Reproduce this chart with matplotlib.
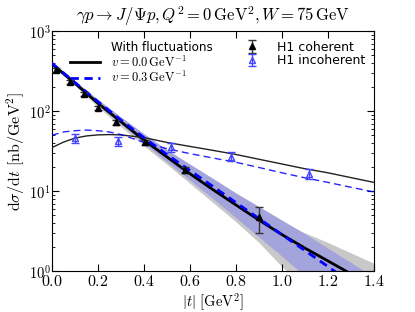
import matplotlib
matplotlib.use('Agg')
import matplotlib.pyplot as plt
import numpy as np
from matplotlib.lines import Line2D
from matplotlib.ticker import FuncFormatter, MultipleLocator

plt.rcParams['mathtext.fontset'] = 'cm'

# |t| grid for the coherent curves and bands
t_coh = [0.0, 0.1, 0.2, 0.3, 0.4, 0.5, 0.6, 0.7, 0.8, 0.9, 1.0, 1.1, 1.2, 1.3, 1.4]
coh_v00 = [389, 224, 126, 74.1, 43.7, 26.9, 16.6, 10.5, 6.76, 4.37, 2.88, 1.95, 1.35, 0.93, 0.65]
coh_v00_lo = [372, 209, 113, 64.5, 37.0, 21.8, 12.6, 7.25, 4.17, 2.30, 1.15, 0.64, 0.36, 0.20, 0.11]
coh_v00_hi = [407, 234, 135, 81.3, 49.0, 30.9, 19.5, 12.9, 8.71, 5.89, 4.17, 3.02, 2.29, 1.70, 1.26]
coh_v03 = [398, 229, 132, 77.6, 46.8, 28.8, 18.2, 11.5, 7.24, 4.57, 2.88, 1.82, 1.15, 0.72, 0.46]
coh_v03_lo = [380, 214, 120, 69.2, 39.8, 23.4, 13.8, 8.13, 4.68, 2.69, 1.55, 0.87, 0.48, 0.26, 0.14]
coh_v03_hi = [417, 240, 141, 85.1, 52.5, 33.1, 21.9, 14.5, 9.55, 6.46, 4.37, 2.95, 1.95, 1.29, 0.85]

# |t| grid for the incoherent curves
t_inc = [0.0, 0.05, 0.1, 0.15, 0.2, 0.25, 0.3, 0.4, 0.5, 0.6, 0.7, 0.8, 0.9, 1.0, 1.1, 1.2, 1.3, 1.4]
inc_v00 = [35, 41, 46, 49, 50.5, 51, 50.5, 46.8, 40.7, 36.3, 32.4, 28.8, 25.1, 21.9, 19.1, 17.0, 14.8, 12.9]
inc_v03 = [50, 55, 57, 58, 57, 55, 51, 41, 34, 29.5, 26, 23, 19.8, 17.0, 14.7, 12.9, 11.2, 9.8]

# H1 data
h1_coh_t = [0.02, 0.08, 0.14, 0.20, 0.28, 0.405, 0.58, 0.90]
h1_coh = [325, 230, 163, 109, 73, 41, 18.3, 4.7]
h1_coh_err = [20, 12, 9, 6, 5, 3, 1.5, 1.7]
h1_inc_t = [0.10, 0.29, 0.52, 0.78, 1.12]
h1_inc = [46, 42, 35.5, 27, 16.5]
h1_inc_err = [6, 5.5, 4.5, 3.5, 2.2]

fig = plt.figure(figsize=(4.15, 3.12), dpi=100)
ax = fig.add_subplot(111)
fig.subplots_adjust(left=0.125, right=0.9, bottom=0.131, top=0.9)

ax.fill_between(t_coh, coh_v00_lo, coh_v00_hi, color='#c8c8c8', lw=0, zorder=1)
ax.fill_between(t_coh, coh_v03_lo, coh_v03_hi, color='#a4a4dc', lw=0, zorder=2)

l0, = ax.plot(t_coh, coh_v00, color='k', lw=2, zorder=4)
l3, = ax.plot(t_coh, coh_v03, color='b', lw=2, ls='--', dashes=(3, 2), zorder=5)
ax.plot(t_inc, inc_v00, color='#222222', lw=1, zorder=4)
ax.plot(t_inc, inc_v03, color='b', lw=1, ls='--', dashes=(5, 3), alpha=0.85, zorder=4)

eb_coh = ax.errorbar(h1_coh_t, h1_coh, yerr=h1_coh_err, fmt='^', color='k', ms=4,
                     ecolor='#333333', elinewidth=1, capsize=3, zorder=6)
eb_inc = ax.errorbar(h1_inc_t, h1_inc, yerr=h1_inc_err, fmt='^', mfc='none', mec='#4444ff',
                     ms=5, ecolor='#4444ff', elinewidth=1, capsize=3, zorder=6)

ax.set_yscale('log')
ax.set_xlim(0, 1.4)
ax.set_ylim(1, 1000)
ax.xaxis.set_major_locator(MultipleLocator(0.2))
ax.xaxis.set_major_formatter(FuncFormatter(lambda v, p: r'$%.1f$' % v))
ax.yaxis.set_major_formatter(FuncFormatter(lambda v, p: r'$10^{%d}$' % round(np.log10(v))))
ax.tick_params(which='both', direction='in', top=True, right=True)
ax.tick_params(axis='x', labelsize=11.5, pad=2)
ax.tick_params(axis='y', labelsize=10.5, pad=1)
ax.tick_params(which='major', length=5)
ax.tick_params(which='minor', length=2.5)

ax.set_title(r'$\gamma p \rightarrow J/\Psi p, Q^2 = 0\,\mathrm{GeV}^2, W = 75\,\mathrm{GeV}$',
             fontsize=12, pad=7)
ax.set_xlabel(r'$|t|\ [\mathrm{GeV}^2]$', fontsize=10.5)
ax.set_ylabel(r'$\mathrm{d}\sigma/\mathrm{d}t\ [\mathrm{nb}/\mathrm{GeV}^2]$', fontsize=11.5)
ax.xaxis.set_label_coords(0.5, -0.086)
ax.yaxis.set_label_coords(-0.078, 0.5)

blank = Line2D([], [], ls='none')
leg1 = ax.legend([blank, l0, l3],
                 ['With fluctuations', r'$v = 0.0\,\mathrm{GeV}^{-1}$', r'$v = 0.3\,\mathrm{GeV}^{-1}$'],
                 loc='upper left', bbox_to_anchor=(0.056, 0.96), frameon=False, fontsize=9,
                 handlelength=2.4, handletextpad=0.9, borderpad=0, borderaxespad=0,
                 labelspacing=0.05)
for txt in leg1.get_texts()[:1]:
    txt.set_fontsize(8.6)
ax.add_artist(leg1)
ax.legend([eb_coh, eb_inc], ['H1 coherent', 'H1 incoherent'], loc='upper left',
          bbox_to_anchor=(0.584, 0.96), frameon=False, fontsize=9, numpoints=1,
          handlelength=2, handletextpad=1.0, borderpad=0, borderaxespad=0,
          labelspacing=0.05)

fig.savefig('out.png', dpi=100)
